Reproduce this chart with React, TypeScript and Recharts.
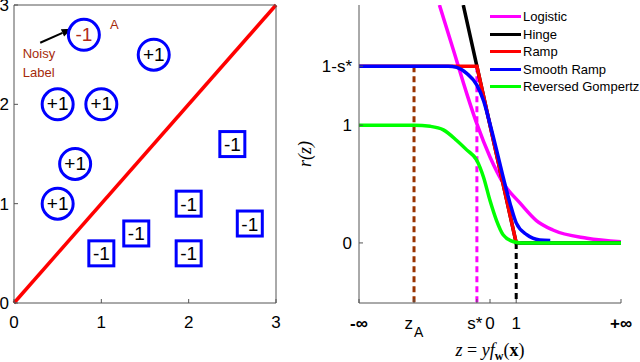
import { ComposedChart, Legend, Line, ReferenceLine, Scatter, ScatterChart, XAxis, YAxis } from "recharts";

// left panel: toy 2-D data set with a linear separator
const boxTicks = [0, 1, 2, 3];
const plusPoints = [
  { x: 1.6, y: 2.5 },
  { x: 0.5, y: 2.0 },
  { x: 1.0, y: 2.0 },
  { x: 0.7, y: 1.4 },
  { x: 0.5, y: 1.0 }
];
const noisyPoints = [{ x: 0.8, y: 2.7 }];
const minusPoints = [
  { x: 2.5, y: 1.6 },
  { x: 2.0, y: 1.0 },
  { x: 2.7, y: 0.8 },
  { x: 1.4, y: 0.7 },
  { x: 1.0, y: 0.5 },
  { x: 2.0, y: 0.5 }
];
const separator = [
  { x: 0, y: 0 },
  { x: 3, y: 3 }
];
const pointNames = [{ x: 1.15, y: 2.81, text: "A" }];
const noteLines = [
  { x: 0.1, y: 2.52, text: "Noisy" },
  { x: 0.1, y: 2.33, text: "Label" }
];
const arrowPath = [
  { x: 0.3, y: 2.62 },
  { x: 0.66, y: 2.76 }
];

// right panel: loss functions r(z)
const zTicks = [-5, -2.9, -0.5, 0, 1, 5];
const zTickLabels = ["-∞", "z_A", "s*", "0", "1", "+∞"];
const rTicks = [0, 1, 1.5];
const rTickLabels = ["0", "1", "1-s*"];

const logisticPts = [
  [-1.93, 2.02], [-1.4, 1.64], [-0.89, 1.27], [-0.5, 1.01], [0, 0.73], [0.5, 0.51],
  [1.14, 0.34], [1.77, 0.19], [2.4, 0.11], [3.7, 0.04], [5, 0.01]
];
const hingePts = [[-1.02, 2.02], [-0.5, 1.5], [1, 0], [5, 0]];
const rampPts = [[-5, 1.5], [-0.5, 1.5], [1, 0]];
const smoothRampPts = [
  [-5, 1.5], [-1.6, 1.5], [-1.27, 1.49], [-0.89, 1.44], [-0.5, 1.34], [-0.25, 1.21], [0, 1.01],
  [0.25, 0.79], [0.5, 0.56], [0.76, 0.34], [1.0, 0.17], [1.4, 0.07], [1.9, 0.025], [2.3, 0.02]
];
const gompertzPts = [
  [-5, 1], [-2.9, 1], [-2.28, 0.99], [-1.78, 0.96], [-1.27, 0.87], [-0.89, 0.79], [-0.5, 0.7],
  [-0.25, 0.56], [0, 0.36], [0.25, 0.19], [0.5, 0.07], [0.9, 0.01], [1.2, 0], [5, 0]
];
const zAGuide = [[-2.9, 1.5], [-2.9, -0.51]];
const sStarGuide = [[-0.5, 1.5], [-0.5, -0.51]];
const oneGuide = [[1, 0], [1, -0.51]];

const toRows = (pts: number[][]) => pts.map(([z, r]) => ({ z, r }));

const series = [
  { name: "Logistic", color: "#ff00ff", pts: logisticPts, curve: "monotone" },
  { name: "Hinge", color: "#000000", pts: hingePts, curve: "linear" },
  { name: "Ramp", color: "#ff0000", pts: rampPts, curve: "linear" },
  { name: "Smooth Ramp", color: "#0000ff", pts: smoothRampPts, curve: "monotone" },
  { name: "Reversed Gompertz", color: "#00ff00", pts: gompertzPts, curve: "monotone" }
];
const guides = [
  { pts: zAGuide, color: "#993300" },
  { pts: sStarGuide, color: "#ff00ff" },
  { pts: oneGuide, color: "#000000" }
];

const AX = "#555";
const SANS = "'Liberation Sans', Arial, sans-serif";
const SERIF = "'Liberation Serif', 'Times New Roman', serif";
const BLUE = "#0000ff";
const BROWN = "#a52a0a";

function BottomTick(props: any) {
  const { x, y, payload } = props;
  return (
    <g>
      <line x1={x} y1={y} x2={x} y2={y - 4} stroke={AX} />
      <text x={x} y={y + 25} textAnchor="middle" fontFamily={SANS} fontSize={17} fill="#000">
        {payload.value}
      </text>
    </g>
  );
}

function LeftTick(props: any) {
  const { x, y, payload } = props;
  return (
    <g>
      <line x1={x} y1={y} x2={x + 4} y2={y} stroke={AX} />
      <text x={x - 5} y={y + 6} textAnchor="end" fontFamily={SANS} fontSize={17} fill="#000">
        {payload.value}
      </text>
    </g>
  );
}

function TopTick(props: any) {
  const { x, y } = props;
  return <line x1={x} y1={y} x2={x} y2={y + 4} stroke={AX} />;
}

function RightTick(props: any) {
  const { x, y } = props;
  return <line x1={x} y1={y} x2={x - 4} y2={y} stroke={AX} />;
}

function ZTick(props: any) {
  const { x, y, payload } = props;
  const label = zTickLabels[zTicks.indexOf(payload.value)];
  const infinite = label.includes("∞");
  return (
    <g>
      <line x1={x} y1={y} x2={x} y2={y - 4} stroke={AX} />
      {label === "z_A" ? (
        <text x={x} y={y + 26} textAnchor="middle" fontFamily={SANS} fontSize={17} fill="#000">
          z
          <tspan dx={1} dy={8} fontSize={14}>A</tspan>
        </text>
      ) : (
        <text
          x={label === "s*" ? x - 2 : x}
          y={y + 26}
          textAnchor="middle"
          fontFamily={SANS}
          fontSize={17}
          fontWeight={infinite ? "bold" : "normal"}
          fill="#000"
        >
          {label}
        </text>
      )}
    </g>
  );
}

function RTick(props: any) {
  const { x, y, payload } = props;
  const label = rTickLabels[rTicks.indexOf(payload.value)];
  return (
    <g>
      <line x1={x} y1={y} x2={x + 4} y2={y} stroke={AX} />
      <text x={x - 7} y={y + 6} textAnchor="end" fontFamily={SANS} fontSize={17} fill="#000">
        {label}
      </text>
    </g>
  );
}

function PlusMarker(props: any) {
  const { cx, cy } = props;
  return (
    <g>
      <circle cx={cx} cy={cy} r={15.5} fill="none" stroke={BLUE} strokeWidth={3} />
      <text x={cx} y={cy + 6} textAnchor="middle" fontFamily={SANS} fontSize={19} fill="#000">
        +1
      </text>
    </g>
  );
}

function NoisyMarker(props: any) {
  const { cx, cy } = props;
  return (
    <g>
      <circle cx={cx} cy={cy} r={15.5} fill="none" stroke={BLUE} strokeWidth={3} />
      <text x={cx} y={cy + 6} textAnchor="middle" fontFamily={SANS} fontSize={19} fill="#b22a18">
        -1
      </text>
    </g>
  );
}

function MinusMarker(props: any) {
  const { cx, cy } = props;
  return (
    <g>
      <rect x={cx - 12.5} y={cy - 12.5} width={25} height={25} fill="none" stroke={BLUE} strokeWidth={3} />
      <text x={cx} y={cy + 7} textAnchor="middle" fontFamily={SANS} fontSize={19} fill="#000">
        -1
      </text>
    </g>
  );
}

function NameText(props: any) {
  const { cx, cy, payload } = props;
  return (
    <text x={cx} y={cy + 5} textAnchor="middle" fontFamily={SANS} fontSize={13} fill={BROWN}>
      {payload.text}
    </text>
  );
}

function NoteText(props: any) {
  const { cx, cy, payload } = props;
  return (
    <text x={cx} y={cy + 5} textAnchor="start" fontFamily={SANS} fontSize={13} fill={BROWN}>
      {payload.text}
    </text>
  );
}

function Arrow(props: any) {
  const { x1, y1, x2, y2 } = props;
  const ang = Math.atan2(y2 - y1, x2 - x1);
  const bx = x2 - 10 * Math.cos(ang);
  const by = y2 - 10 * Math.sin(ang);
  const px = -Math.sin(ang) * 4;
  const py = Math.cos(ang) * 4;
  return (
    <g>
      <line x1={x1} y1={y1} x2={bx} y2={by} stroke="#000" strokeWidth={2} />
      <polygon points={`${x2},${y2} ${bx + px},${by + py} ${bx - px},${by - py}`} fill="#000" />
    </g>
  );
}

function RLabel(props: any) {
  const { viewBox } = props;
  const cy = viewBox.y + viewBox.height / 2;
  return (
    <text
      x={15}
      y={cy}
      transform={`rotate(-90 15 ${cy})`}
      textAnchor="middle"
      dominantBaseline="central"
      fontFamily={SERIF}
      fontStyle="italic"
      fontSize={18}
      fill="#000"
    >
      r(z)
    </text>
  );
}

function ZLabel(props: any) {
  const { viewBox } = props;
  const cx = viewBox.x + viewBox.width / 2;
  return (
    <text x={cx} y={viewBox.y + 53} textAnchor="middle" fontFamily={SERIF} fontSize={18} fill="#000">
      <tspan fontStyle="italic">z</tspan>
      <tspan> = </tspan>
      <tspan fontStyle="italic">yf</tspan>
      <tspan dy={4} fontSize={12} fontWeight="bold">w</tspan>
      <tspan dy={-4}>(</tspan>
      <tspan fontWeight="bold">x</tspan>
      <tspan>)</tspan>
    </text>
  );
}

function LossLegend() {
  return (
    <div style={{ fontFamily: SANS, fontSize: 13, whiteSpace: "nowrap" }}>
      {series.map((s) => (
        <div key={s.name} style={{ display: "flex", alignItems: "center", height: 17.5 }}>
          <span style={{ display: "inline-block", width: 31, height: 3, background: s.color, marginRight: 2 }} />
          <span>{s.name}</span>
        </div>
      ))}
    </div>
  );
}

export default function App() {
  return (
    <div style={{ position: "fixed", left: 0, top: 0, width: 640, height: 362, background: "#fff", overflow: "hidden" }}>
      <div style={{ position: "absolute", left: 0, top: 0 }}>
        <ScatterChart width={290} height={362} margin={{ top: 4, right: 13, bottom: 0, left: 0 }}>
          <XAxis
            type="number"
            dataKey="x"
            domain={[0, 3]}
            ticks={boxTicks}
            interval={0}
            height={59}
            stroke={AX}
            tickSize={0}
            tickMargin={0}
            tickLine={false}
            tick={BottomTick}
          />
          <XAxis
            xAxisId="top"
            orientation="top"
            type="number"
            dataKey="x"
            domain={[0, 3]}
            ticks={boxTicks}
            interval={0}
            height={1}
            stroke={AX}
            tickSize={0}
            tickMargin={0}
            tickLine={false}
            tick={TopTick}
          />
          <YAxis
            type="number"
            dataKey="y"
            domain={[0, 3]}
            ticks={boxTicks}
            interval={0}
            width={14}
            stroke={AX}
            tickSize={0}
            tickMargin={0}
            tickLine={false}
            tick={LeftTick}
          />
          <YAxis
            yAxisId="right"
            orientation="right"
            type="number"
            dataKey="y"
            domain={[0, 3]}
            ticks={boxTicks}
            interval={0}
            width={1}
            stroke={AX}
            tickSize={0}
            tickMargin={0}
            tickLine={false}
            tick={RightTick}
          />
          <ReferenceLine segment={separator} stroke="#ff0000" strokeWidth={3.5} />
          <Scatter data={plusPoints} shape={PlusMarker} isAnimationActive={false} />
          <Scatter data={noisyPoints} shape={NoisyMarker} isAnimationActive={false} />
          <Scatter data={minusPoints} shape={MinusMarker} isAnimationActive={false} />
          <Scatter data={pointNames} shape={NameText} isAnimationActive={false} />
          <Scatter data={noteLines} shape={NoteText} isAnimationActive={false} />
          <ReferenceLine segment={arrowPath} shape={Arrow} />
        </ScatterChart>
      </div>

      <div style={{ position: "absolute", left: 290, top: 0 }}>
        <ComposedChart width={350} height={362} margin={{ top: 5, right: 19, bottom: 0, left: 0 }}>
          <XAxis
            type="number"
            dataKey="z"
            domain={[-5, 5]}
            ticks={zTicks}
            interval={0}
            height={59}
            stroke={AX}
            tickSize={0}
            tickMargin={0}
            tickLine={false}
            tick={ZTick}
            allowDataOverflow
            label={{ content: ZLabel }}
          />
          <YAxis
            type="number"
            dataKey="r"
            domain={[-0.51, 2.02]}
            ticks={rTicks}
            interval={0}
            width={69}
            stroke={AX}
            tickSize={0}
            tickMargin={0}
            tickLine={false}
            tick={RTick}
            allowDataOverflow
            label={{ content: RLabel }}
          />
          {guides.map((g, i) => (
            <Line
              key={"g" + i}
              data={toRows(g.pts)}
              dataKey="r"
              type="linear"
              stroke={g.color}
              strokeWidth={3}
              strokeDasharray="6 4"
              dot={false}
              activeDot={false}
              legendType="none"
              isAnimationActive={false}
            />
          ))}
          {series.map((s) => (
            <Line
              key={s.name}
              name={s.name}
              data={toRows(s.pts)}
              dataKey="r"
              type={s.curve as any}
              stroke={s.color}
              strokeWidth={3.5}
              dot={false}
              activeDot={false}
              isAnimationActive={false}
            />
          ))}
          <Legend
            layout="vertical"
            align="center"
            verticalAlign="middle"
            wrapperStyle={{ left: 200, top: 8, width: 160 }}
            content={LossLegend}
          />
        </ComposedChart>
      </div>
    </div>
  );
}
